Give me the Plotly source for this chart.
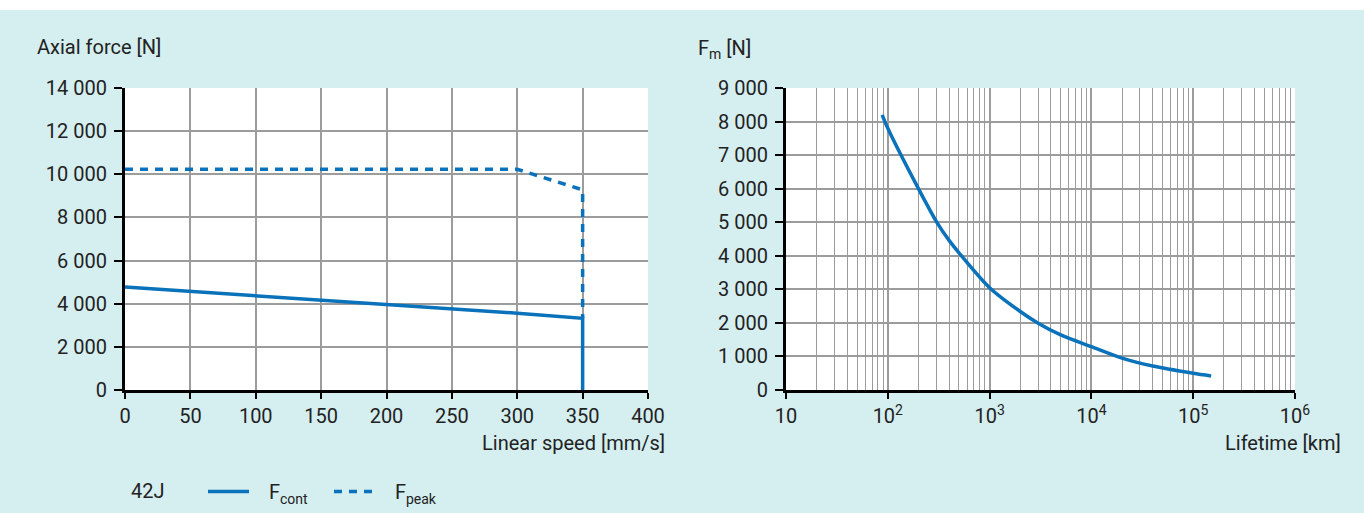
import plotly.graph_objects as go

# ---- data ----
speed_cont = [0, 50, 100, 150, 200, 250, 300, 350, 350]
force_cont = [4770, 4570, 4370, 4150, 3950, 3760, 3560, 3320, 0]

speed_peak = [0, 300, 350, 350]
force_peak = [10230, 10230, 9280, 3320]

lifetime_km = [88, 100, 200, 300, 400, 500, 1000, 2000, 3000, 5000, 10000,
               20000, 40000, 100000, 150000]
fm_n = [8200, 7800, 6000, 5020, 4460, 4090, 3050, 2340, 1990, 1640, 1290,
        950, 715, 500, 420]

y_left_ticks = [0, 2000, 4000, 6000, 8000, 10000, 12000, 14000]
y_left_text = ["0", "2 000", "4 000", "6 000", "8 000", "10 000", "12 000", "14 000"]
x_left_ticks = [0, 50, 100, 150, 200, 250, 300, 350, 400]

y_right_ticks = [0, 1000, 2000, 3000, 4000, 5000, 6000, 7000, 8000, 9000]
y_right_text = ["0", "1 000", "2 000", "3 000", "4 000", "5 000", "6 000",
                "7 000", "8 000", "9 000"]
x_right_ticks = [10, 100, 1000, 10000, 100000, 1000000]
x_right_text = ["10", "10<sup>2</sup>", "10<sup>3</sup>", "10<sup>4</sup>",
                "10<sup>5</sup>", "10<sup>6</sup>"]

W, H = 1364, 513
BLUE = "#0a72ba"
BG = "#d5eef0"
GRID = "#9c9c9c"
FONT = "Roboto, Liberation Sans, sans-serif"
TXT = "#222222"
FS = 20
NB = "\u00a0" * 3


def px(v):
    return v / W


def py(v):
    return 1 - v / H


fig = go.Figure()

fig.add_trace(go.Scatter(x=speed_cont, y=force_cont, mode="lines",
                         line=dict(color=BLUE, width=3.5),
                         name=NB + "F<sub>cont</sub>", xaxis="x", yaxis="y"))
fig.add_trace(go.Scatter(x=speed_peak, y=force_peak, mode="lines",
                         line=dict(color=BLUE, width=3.5, dash="8px,7px"),
                         name=NB + "F<sub>peak</sub>", xaxis="x", yaxis="y"))
fig.add_trace(go.Scatter(x=lifetime_km, y=fm_n, mode="lines",
                         line=dict(color=BLUE, width=3.5, shape="spline", smoothing=0.8),
                         showlegend=False, xaxis="x2", yaxis="y2"))

axis_common = dict(
    showline=True, linecolor="black", linewidth=3,
    ticks="outside", tickwidth=2, tickcolor="black",
    showgrid=True, gridcolor=GRID, gridwidth=1.5, zeroline=False,
    automargin=False,
    tickfont=dict(family=FONT, size=FS, color=TXT),
)
xaxis_extra = dict(ticklen=6)
yaxis_extra = dict(ticklen=8, ticklabelstandoff=3)

fig.update_layout(
    width=W, height=H,
    margin=dict(l=0, r=0, t=0, b=0, autoexpand=False),
    paper_bgcolor=BG, plot_bgcolor="white",
    font=dict(family=FONT, size=FS, color=TXT),
    xaxis=dict(domain=[px(125), px(648)], range=[0, 400], tickvals=x_left_ticks,
               anchor="y", **axis_common, **xaxis_extra),
    yaxis=dict(domain=[py(390), py(88)], range=[0, 14000], tickvals=y_left_ticks,
               ticktext=y_left_text, anchor="x", **axis_common, **yaxis_extra),
    xaxis2=dict(domain=[px(786), px(1295)], type="log", range=[1, 6],
                tickvals=x_right_ticks, ticktext=x_right_text, anchor="y2",
                minor=dict(dtick="D1", showgrid=True, gridcolor=GRID, gridwidth=1.2,
                           ticks=""),
                **axis_common, **xaxis_extra),
    yaxis2=dict(domain=[py(390), py(88)], range=[0, 9000], tickvals=y_right_ticks,
                ticktext=y_right_text, anchor="x2", **axis_common, **yaxis_extra),
    showlegend=True,
    legend=dict(orientation="h", x=px(203), y=py(472), xanchor="left", yanchor="top",
                bgcolor="rgba(0,0,0,0)", itemwidth=41, entrywidth=70,
                entrywidthmode="pixels",
                font=dict(family=FONT, size=FS, color=TXT)),
    shapes=[
        dict(type="rect", xref="paper", yref="paper", x0=0, x1=1, y0=py(10), y1=1,
             fillcolor="white", line=dict(width=0), layer="below"),
    ],
    annotations=[
        dict(text="Axial force [N]", xref="paper", yref="paper", x=px(35), y=py(47),
             xanchor="left", yanchor="middle", showarrow=False),
        dict(text="Linear speed [mm/s]", xref="paper", yref="paper", x=px(667), y=py(443),
             xanchor="right", yanchor="middle", showarrow=False),
        dict(text="F<sub>m</sub> [N]", xref="paper", yref="paper", x=px(696), y=py(49),
             xanchor="left", yanchor="middle", showarrow=False),
        dict(text="Lifetime [km]", xref="paper", yref="paper", x=px(1343), y=py(443),
             xanchor="right", yanchor="middle", showarrow=False),
        dict(text="42J", xref="paper", yref="paper", x=px(129), y=py(491),
             xanchor="left", yanchor="middle", showarrow=False),
    ],
)

fig.write_html("out.html")
